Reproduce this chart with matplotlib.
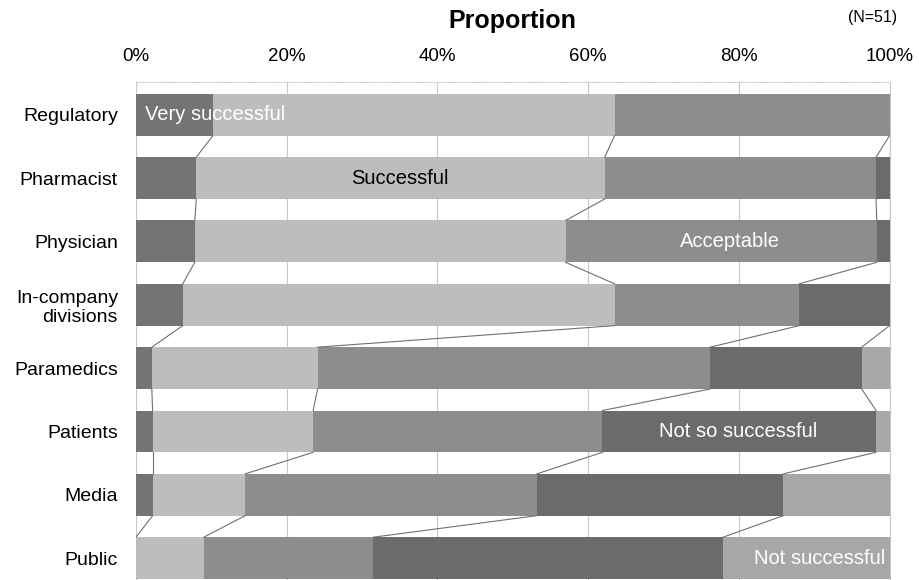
import matplotlib
matplotlib.use("Agg")
import matplotlib.pyplot as plt
import numpy as np

plt.rcParams['font.family'] = ['Liberation Sans', 'DejaVu Sans']

categories = ["Regulatory", "Pharmacist", "Physician", "In-company\ndivisions",
              "Paramedics", "Patients", "Media", "Public"]
series = ["Very successful", "Successful", "Acceptable", "Not so successful", "Not successful"]
very_successful = [10.2, 8.0, 7.8, 6.2, 2.1, 2.2, 2.2, 0.0]
successful      = [53.3, 54.2, 49.2, 57.3, 22.0, 21.3, 12.3, 9.0]
acceptable      = [36.5, 36.0, 41.3, 24.5, 52.1, 38.4, 38.7, 22.5]
not_so          = [0.0, 1.8, 1.7, 12.0, 20.1, 36.3, 32.7, 46.4]
not_successful  = [0.0, 0.0, 0.0, 0.0, 3.7, 1.8, 14.1, 22.1]
xticks = [0, 20, 40, 60, 80, 100]
xticklabels = ["0%", "20%", "40%", "60%", "80%", "100%"]

colors = ["#747474", "#bdbdbd", "#8d8d8d", "#6b6b6b", "#a7a7a7"]
data = np.array([very_successful, successful, acceptable, not_so, not_successful])

fig = plt.figure(figsize=(9.19, 5.8), dpi=100)
ax = fig.add_axes([0.148, -0.019, 0.820, 0.878])

y = np.arange(len(categories))
h = 0.66
left = np.zeros(len(categories))
for i, vals in enumerate(data):
    ax.barh(y, vals, left=left, height=h, color=colors[i], edgecolor='none', zorder=2)
    left = left + vals

# connecting lines between bars
cum = np.cumsum(data, axis=0)
for k in range(cum.shape[0] - 1):
    for j in range(len(categories) - 1):
        ax.plot([cum[k, j], cum[k, j + 1]], [y[j] + h / 2, y[j + 1] - h / 2],
                color="#707070", lw=0.8, zorder=3)

ax.set_xlim(0, 100)
ax.set_ylim(len(categories) - 0.48, -0.52)
ax.set_xticks(xticks)
ax.set_xticklabels(xticklabels, fontsize=13.5)
ax.xaxis.tick_top()
ax.tick_params(axis='x', length=0, pad=12)
ax.set_yticks(y)
ax.set_yticklabels(categories, fontsize=14)
ax.tick_params(axis='y', length=0, pad=13)
ax.grid(axis='x', color="#c8c8c8", lw=0.8, zorder=0)
for s in ['left', 'bottom']:
    ax.spines[s].set_visible(False)
ax.spines['top'].set_color("#c8c8c8")
ax.spines['top'].set_linestyle(':')
ax.spines['right'].set_color("#c8c8c8")

fig.text(0.557, 0.964, "Proportion", fontsize=18, fontweight='bold', ha='center', va='center')
fig.text(0.949, 0.97, "(N=51)", fontsize=11.5, ha='center', va='center')

# in-bar labels
ax.text(1.2, 0, "Very successful", color='white', fontsize=14.5, va='center', ha='left', zorder=4)
ax.text(35, 1, "Successful", color='black', fontsize=14.5, va='center', ha='center', zorder=4)
ax.text(78.8, 2, "Acceptable", color='white', fontsize=14.5, va='center', ha='center', zorder=4)
ax.text(79.9, 5, "Not so successful", color='white', fontsize=14.5, va='center', ha='center', zorder=4)
ax.text(99.4, 7, "Not successful", color='white', fontsize=14.5, va='center', ha='right', zorder=4)

fig.savefig("out.png", dpi=100)
